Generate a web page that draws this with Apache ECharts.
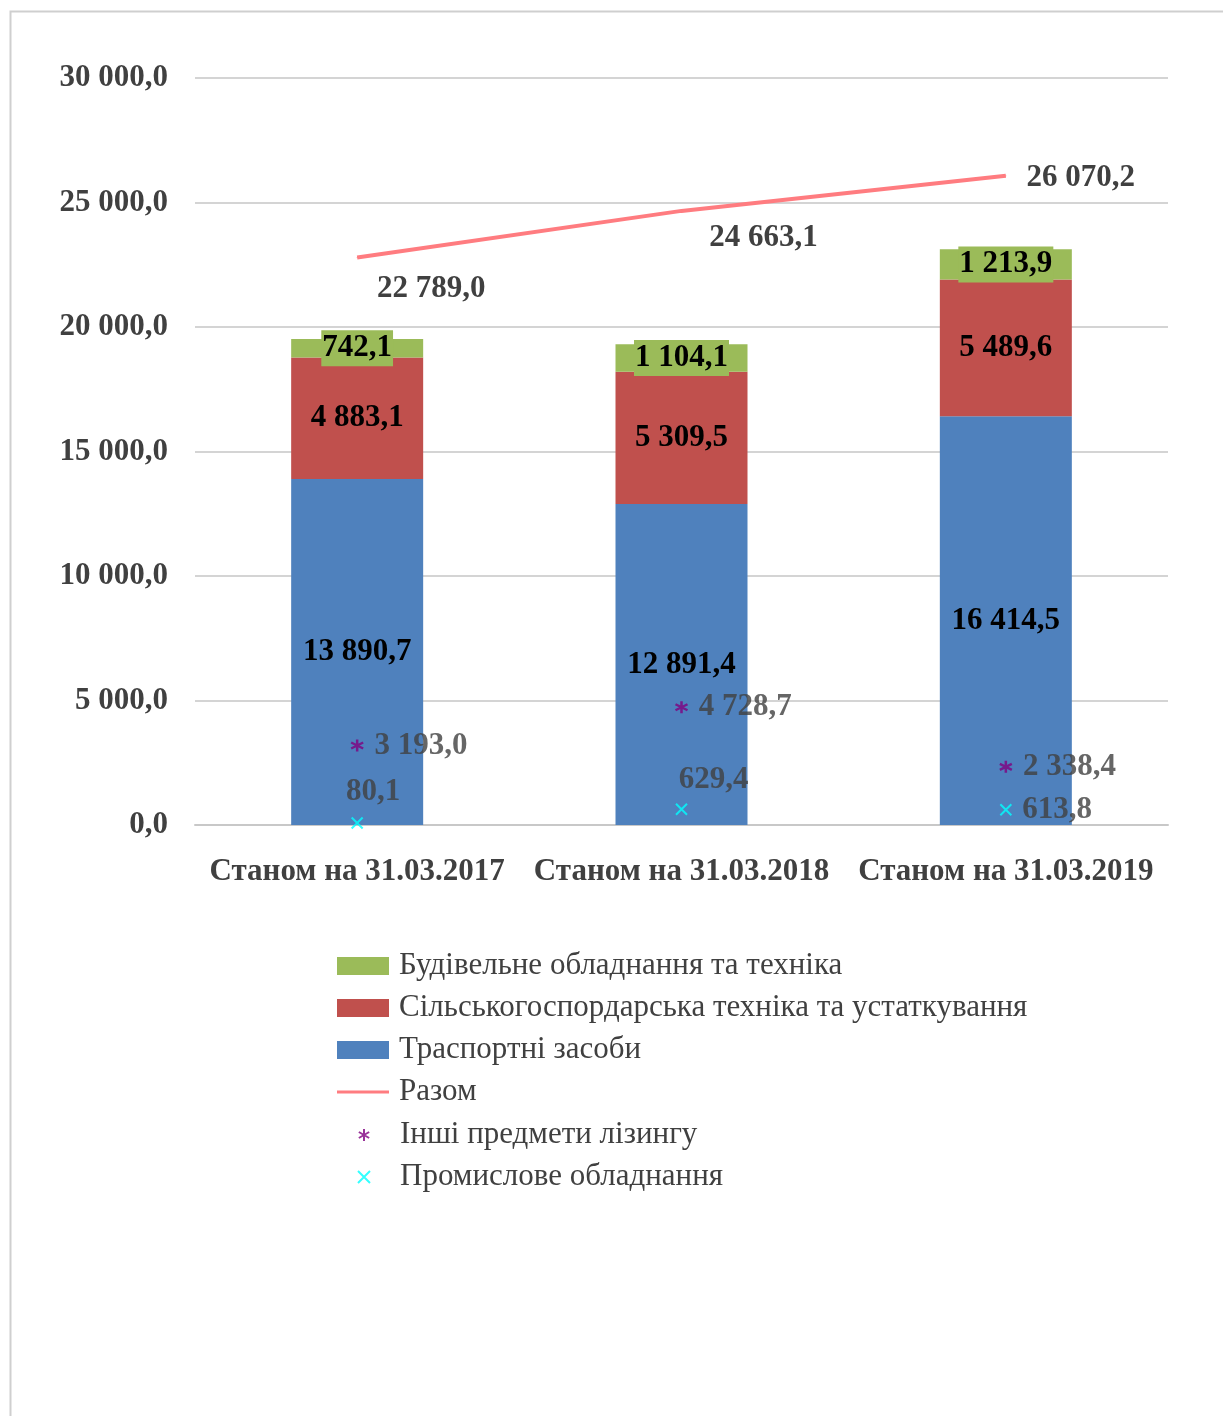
<!DOCTYPE html>
<html>
<head>
<meta charset="utf-8">
<title>Лізинг</title>
<script src="https://cdn.jsdelivr.net/npm/echarts@6/dist/echarts.min.js"></script>
<style>
  html, body { margin: 0; padding: 0; background: #fff; }
  #chart { width: 1223px; height: 1416px; }
</style>
</head>
<body>
<div id="chart"></div>
<script>
"use strict";
// data
const categories = ["Станом на 31.03.2017", "Станом на 31.03.2018", "Станом на 31.03.2019"];
const transport = [13890.7, 12891.4, 16414.5];
const agro = [4883.1, 5309.5, 5489.6];
const construction = [742.1, 1104.1, 1213.9];
const total = [22789.0, 24663.1, 26070.2];
const other = [3193.0, 4728.7, 2338.4];
const industrial = [80.1, 629.4, 613.8];
const yTicks = [0, 5000, 10000, 15000, 20000, 25000, 30000];

const FONT = "'Liberation Serif', 'Times New Roman', serif";
const FS = 31;

function fmt(v) {
  const s = Number(v).toFixed(1).split(".");
  return s[0].replace(/\B(?=(\d{3})+(?!\d))/g, " ") + "," + s[1];
}

// label offsets for individual points (layout only)
const totalOffsets = [[74, 31], [82, 27], [75, 2]];
const industrialLabels = [
  { position: "inside", offset: [16, -31] },
  { position: "inside", offset: [32, -29] },
  { position: "right" }
];

const valueLabel = {
  fontFamily: FONT,
  fontSize: FS,
  fontWeight: "bold",
  color: "#404040"
};

const barLabel = {
  show: true,
  position: "inside",
  formatter: (p) => fmt(p.value),
  fontFamily: FONT,
  fontSize: FS,
  fontWeight: "bold",
  color: "#000"
};

const option = {
  backgroundColor: "#fff",
  animation: false,
  textStyle: { fontFamily: FONT },
  graphic: [
    {
      type: "rect",
      shape: { x: 10.5, y: 11.5, width: 1250, height: 1450 },
      style: { fill: "none", stroke: "#CFCFCF", lineWidth: 2 },
      silent: true
    }
  ],
  grid: { left: 195, right: 55, top: 78, bottom: 591 },
  legend: [
    {
      orient: "vertical",
      left: 337,
      top: 949,
      padding: 0,
      itemWidth: 52,
      itemHeight: 18,
      itemGap: 8,
      selectedMode: false,
      textStyle: { fontFamily: FONT, fontSize: FS, color: "#404040", lineHeight: 34, padding: [0, 0, 0, 5] },
      data: [
        { name: "Будівельне обладнання та техніка", icon: "rect" },
        { name: "Сільськогоспордарська техніка та устаткування", icon: "rect" },
        { name: "Траспортні засоби", icon: "rect" },
        { name: "Разом", icon: "path://M0,0L52,0L52,3L0,3Z" }
      ]
    },
    {
      orient: "vertical",
      left: 357,
      top: 1118,
      padding: 0,
      itemWidth: 12,
      itemHeight: 12,
      itemGap: 8,
      selectedMode: false,
      textStyle: { fontFamily: FONT, fontSize: FS, color: "#404040", lineHeight: 34, padding: [0, 0, 0, 25] },
      data: ["Інші предмети лізингу", "Промислове обладнання"]
    }
  ],
  xAxis: {
    type: "category",
    data: categories,
    axisTick: { show: false },
    axisLine: { lineStyle: { color: "#C8C8C8", width: 2 } },
    axisLabel: {
      interval: 0,
      hideOverlap: false,
      margin: 31,
      fontFamily: FONT,
      fontSize: FS,
      fontWeight: "bold",
      color: "#404040"
    }
  },
  yAxis: {
    type: "value",
    min: yTicks[0],
    max: yTicks[yTicks.length - 1],
    interval: yTicks[1] - yTicks[0],
    axisLine: { show: false },
    axisTick: { show: false },
    splitLine: { lineStyle: { color: "#D4D4D4", width: 2 } },
    axisLabel: {
      margin: 27,
      fontFamily: FONT,
      fontSize: FS,
      fontWeight: "bold",
      color: "#404040",
      formatter: fmt
    }
  },
  series: [
    {
      name: "Траспортні засоби",
      type: "bar",
      stack: "s",
      barWidth: 132,
      itemStyle: { color: "#4F81BD" },
      label: barLabel,
      data: transport
    },
    {
      name: "Сільськогоспордарська техніка та устаткування",
      type: "bar",
      stack: "s",
      barWidth: 132,
      itemStyle: { color: "#C0504D" },
      label: barLabel,
      data: agro
    },
    {
      name: "Будівельне обладнання та техніка",
      type: "bar",
      stack: "s",
      barWidth: 132,
      itemStyle: { color: "#9BBB59" },
      label: Object.assign({}, barLabel, { backgroundColor: "#9BBB59", padding: [3, 1, 2, 1] }),
      data: construction
    },
    {
      name: "Разом",
      type: "line",
      symbol: "circle",
      symbolSize: 1,
      showSymbol: true,
      itemStyle: { color: "#FF7C80" },
      lineStyle: { color: "#FF7C80", width: 4 },
      label: Object.assign({ show: true, position: "inside", formatter: (p) => fmt(p.value) }, valueLabel),
      data: total.map((v, i) => ({ value: v, label: { offset: totalOffsets[i] } })),
      z: 5
    },
    {
      name: "Інші предмети лізингу",
      type: "scatter",
      symbol: "path://M5,0L5,10M0.7,2.5L9.3,7.5M0.7,7.5L9.3,2.5",
      symbolSize: 12,
      itemStyle: { color: "#800080", borderColor: "#800080", borderWidth: 2.5 },
      label: Object.assign({ show: true, position: "right", distance: 10, formatter: (p) => fmt(p.value) }, valueLabel),
      data: other,
      z: 6
    },
    {
      name: "Промислове обладнання",
      type: "scatter",
      symbol: "path://M0,0L10,10M0,10L10,0",
      symbolSize: 11,
      itemStyle: { color: "#00FFFF", borderColor: "#00FFFF", borderWidth: 2 },
      label: Object.assign({ show: true, position: "right", distance: 10, formatter: (p) => fmt(p.value) }, valueLabel),
      data: industrial.map((v, i) => ({ value: v, label: industrialLabels[i] })),
      z: 6
    }
  ]
};

const myChart = echarts.init(document.getElementById("chart"), null, { renderer: "canvas" });
myChart.setOption(option);
</script>
</body>
</html>
